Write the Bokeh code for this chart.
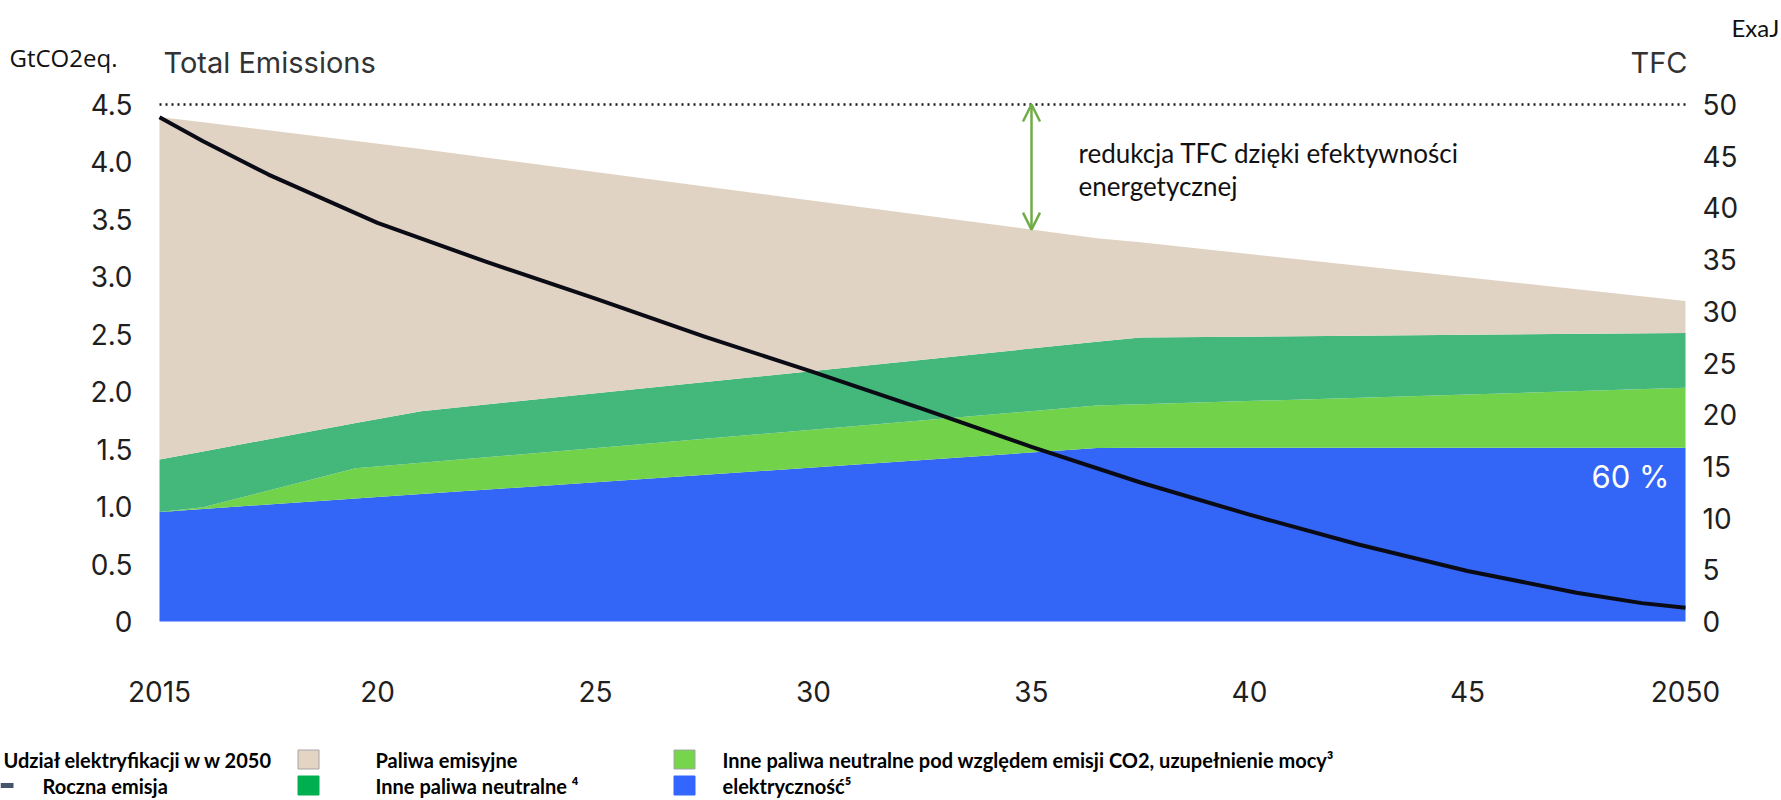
from bokeh.plotting import figure
from bokeh.models import (Range1d, LinearAxis, FixedTicker, Arrow, OpenHead, ColumnDataSource)
from bokeh.embed import file_html
from bokeh.resources import INLINE
from bokeh.core.properties import value

# ---------------- data ----------------
# TFC stack (ExaJ), bottom -> top
years = [2015, 2016, 2019.5, 2021, 2036.5, 2037.5, 2050]
elektrycznosc = [10.6, 10.89, 11.89, 12.32, 16.77, 16.8, 16.8]
inne_uzupelnienie = [0.0, 0.15, 2.92, 3.03, 4.11, 4.2, 5.8]
inne_neutralne = [5.06, 5.41, 4.39, 4.99, 6.17, 6.46, 5.3]
paliwa_emisyjne = [33.14, 31.83, 27.27, 25.36, 10.02, 9.21, 3.1]

# annual emissions (GtCO2eq.)
em_years = [2015, 2016, 2017.5, 2020, 2022.5, 2025, 2027.5, 2030, 2032.5, 2035,
            2037.5, 2040, 2042.5, 2045, 2047.5, 2049, 2050]
emisja = [4.39, 4.18, 3.89, 3.47, 3.13, 2.81, 2.48, 2.17, 1.85, 1.52,
          1.21, 0.93, 0.67, 0.44, 0.25, 0.16, 0.12]

left_ticks = [0, 0.5, 1.0, 1.5, 2.0, 2.5, 3.0, 3.5, 4.0, 4.5]
left_labels = ["0", "0.5", "1.0", "1.5", "2.0", "2.5", "3.0", "3.5", "4.0", "4.5"]
right_ticks = [0, 5, 10, 15, 20, 25, 30, 35, 40, 45, 50]
x_ticks = [2015, 2020, 2025, 2030, 2035, 2040, 2045, 2050]
x_labels = ["2015", "20", "25", "30", "35", "40", "45", "2050"]

tfc_baseline = 50
arrow_year = 2035
arrow_bottom = 37.9
share_label = "60 %"

legend_labels = ["Paliwa emisyjne", "Inne paliwa neutralne \u2074",
                 "Inne paliwa neutralne pod względem emisji CO2, uzupełnienie mocy\u00b3",
                 "elektryczność\u2075"]
legend_header = "Udział elektryfikacji w w 2050"
line_label = "Roczna emisja"

C_BLUE = "#3366F6"
C_LGREEN = "#72D34A"
C_DGREEN = "#44B77B"
C_BEIGE = "#E1D3C4"

# ---------------- layout (canvas pixels) ----------------
W, H = 1781, 800
FR_L, FR_R = 159, 1685           # plotting area left/right
ZERO, TOPV = 621, 104            # y of 0 and of 4.5 GtCO2 / 50 EJ
PXY = (FR_R - FR_L) / 35.0
PXV = (ZERO - TOPV) / 4.5
k = 50 / 4.5

xs = 2015 - FR_L / PXY
xe = 2050 + (W - FR_R) / PXY
ys = (ZERO - H) / PXV
ye = ZERO / PXV

p = figure(width=W, height=H, x_range=Range1d(xs, xe), y_range=Range1d(ys, ye),
           output_backend="svg", toolbar_location=None,
           min_border_left=0, min_border_right=0, min_border_top=0, min_border_bottom=0)
p.extra_y_ranges = {"tfc": Range1d(ys * k, ye * k), "py": Range1d(H, 0)}
p.extra_x_ranges = {"px": Range1d(0, W)}
p.xgrid.visible = False
p.ygrid.visible = False
p.outline_line_color = None
p.background_fill_color = "white"
p.border_fill_color = "white"

src = ColumnDataSource(dict(years=years, elektrycznosc=elektrycznosc,
                            inne_uzupelnienie=inne_uzupelnienie,
                            inne_neutralne=inne_neutralne,
                            paliwa_emisyjne=paliwa_emisyjne))
p.varea_stack(stackers=["elektrycznosc", "inne_uzupelnienie", "inne_neutralne", "paliwa_emisyjne"],
              x="years", color=[C_BLUE, C_LGREEN, C_DGREEN, C_BEIGE], source=src,
              y_range_name="tfc")

p.line(em_years, emisja, line_width=4, line_color="#0b0b16", line_join="round")

# dotted TFC reference line
p.line([years[0], years[-1]], [tfc_baseline, tfc_baseline], y_range_name="tfc",
       line_color="#1a1a1a", line_width=2.5, line_dash="2 4")

ac = "#70AD47"
p.add_layout(Arrow(start=OpenHead(size=17, line_color=ac, line_width=2.5),
                   end=OpenHead(size=17, line_color=ac, line_width=2.5),
                   x_start=arrow_year, y_start=tfc_baseline, x_end=arrow_year, y_end=arrow_bottom,
                   y_range_name="tfc", line_color=ac, line_width=2.5))

# ---------------- axes ----------------
def style_axis(ax, standoff):
    ax.axis_line_color = None
    ax.major_tick_line_color = None
    ax.minor_tick_line_color = None
    ax.major_tick_out = 0
    ax.major_tick_in = 0
    ax.major_label_text_font = "Inter"
    ax.major_label_text_font_size = "28px"
    ax.major_label_text_color = "#1f1f1f"
    ax.major_label_standoff = standoff

p.yaxis.ticker = FixedTicker(ticks=left_ticks)
p.yaxis.major_label_overrides = {t: s for t, s in zip(left_ticks, left_labels)}
style_axis(p.yaxis[0], -132)

ax_r = LinearAxis(y_range_name="tfc", ticker=FixedTicker(ticks=right_ticks))
style_axis(ax_r, -(W - 1702))
p.add_layout(ax_r, "right")

p.xaxis.ticker = FixedTicker(ticks=x_ticks)
p.xaxis.major_label_overrides = {t: s for t, s in zip(x_ticks, x_labels)}
style_axis(p.xaxis[0], -(H - 680))

# ---------------- texts (canvas pixel coordinates) ----------------
def txt(x, y, text, font, size, color, align="left", style="normal"):
    p.text(x=[x], y=[y], text=[text], x_range_name="px", y_range_name="py",
           text_font=value(font), text_font_size=size, text_color=color,
           text_align=align, text_baseline="middle", text_font_style=style)

txt(9, 57, "GtCO2eq.", "Open Sans", "24px", "#111111")
txt(163, 62, "Total Emissions", "Inter", "29px", "#333333")
txt(1687, 62, "TFC", "Inter", "29px", "#333333", align="right")
txt(1731, 27, "ExaJ", "Lato", "24px", "#111111")
txt(1078, 152, "redukcja TFC dzięki efektywności", "Lato", "26px", "#111111")
txt(1078, 185, "energetycznej", "Lato", "26px", "#111111")
txt(1669, 476, share_label, "Inter", "31px", "#FFFFFF", align="right")

# ---------------- legend ----------------
r1, r2 = 759, 785
p.rect(x=[308, 308, 684, 684], y=[r1, r2, r1, r2], width=21, height=19,
       x_range_name="px", y_range_name="py",
       fill_color=["#E3D4C4", "#00B050", "#75D64B", "#3366FF"],
       line_color=["#A6A6A6", "#00B050", "#A6A6A6", "#3366FF"], line_width=1)
p.segment(x0=[0], y0=[r2], x1=[13], y1=[r2], x_range_name="px", y_range_name="py",
          line_width=5, line_color="#44546A")
p.text(x=[3, 42, 375, 375, 722, 722], y=[r1, r2, r1, r2, r1, r2],
       text=[legend_header, line_label] + legend_labels[:2] + legend_labels[2:],
       x_range_name="px", y_range_name="py",
       text_font=value("Lato"), text_font_style="bold", text_font_size="20px",
       text_baseline="middle", text_align="left", text_color="#000000")

open("out.html", "w").write(file_html(p, INLINE))
